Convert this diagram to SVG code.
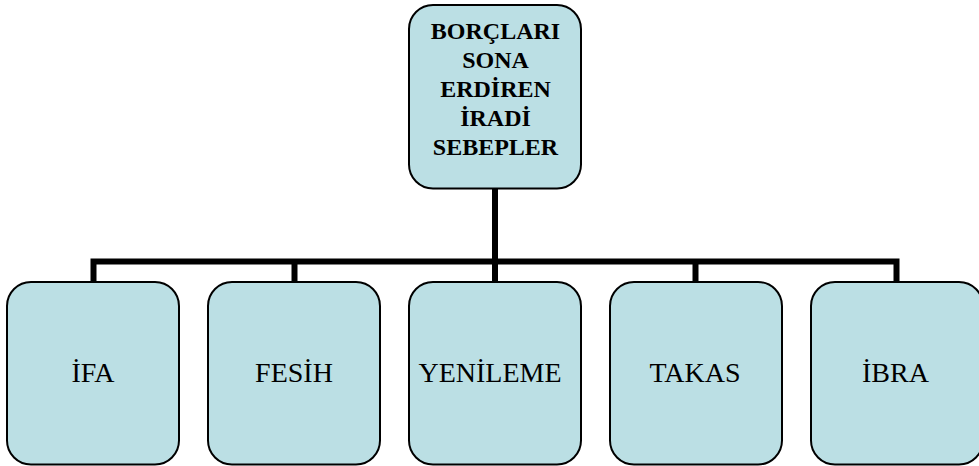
<svg xmlns="http://www.w3.org/2000/svg" width="979" height="466" viewBox="0 0 979 466">
<style>
.box{fill:#BBDFE4;stroke:#000;stroke-width:2}
.conn{fill:none;stroke:#000;stroke-width:6;stroke-linejoin:miter;stroke-linecap:butt}
.t{font-family:"Liberation Serif","Times New Roman",serif;fill:#000;text-anchor:middle}
.top{font-size:24px;font-weight:bold}
.leaf{font-size:28px}
</style>
<rect width="979" height="466" fill="#fff"/>
<g id="connectors">
<path class="conn" d="M495 188 V261.5"/>
<path class="conn" d="M93.5 282 V261.5 H896.5 V282"/>
<path class="conn" d="M294.5 282 V261.5"/>
<path class="conn" d="M495 282 V261.5"/>
<path class="conn" d="M695.5 282 V261.5"/>
</g>
<g id="root">
<rect class="box" x="409" y="5" width="172" height="183.5" rx="24"/>
<text class="t top" x="495.5" y="39">BORÇLARI</text>
<text class="t top" x="495.5" y="68">SONA</text>
<text class="t top" x="495.5" y="97">ERDİREN</text>
<text class="t top" x="495.5" y="126">İRADİ</text>
<text class="t top" x="495.5" y="155">SEBEPLER</text>
</g>
<g id="ifa">
<rect class="box" x="7" y="282" width="172" height="182.5" rx="24"/>
<text class="t leaf" x="93" y="382">İFA</text>
</g>
<g id="fesih">
<rect class="box" x="208" y="282" width="172" height="182.5" rx="24"/>
<text class="t leaf" x="294" y="382">FESİH</text>
</g>
<g id="yenileme">
<rect class="box" x="409" y="282" width="172" height="182.5" rx="24"/>
<text class="t leaf" x="490" y="382">YENİLEME</text>
</g>
<g id="takas">
<rect class="box" x="610" y="282" width="172" height="182.5" rx="24"/>
<text class="t leaf" x="695" y="382">TAKAS</text>
</g>
<g id="ibra">
<rect class="box" x="811" y="282" width="172" height="182.5" rx="24"/>
<text class="t leaf" x="895.5" y="382">İBRA</text>
</g>
</svg>
